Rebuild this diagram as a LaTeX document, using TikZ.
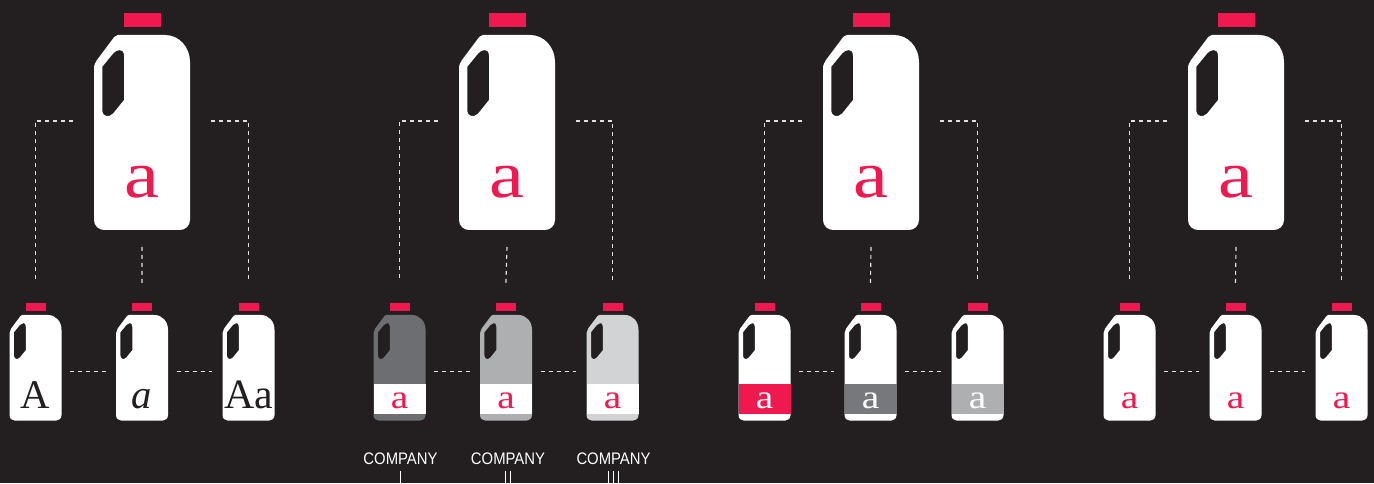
\documentclass[tikz,border=0pt]{standalone}
\usepackage{fontspec}
\setmainfont{Liberation Serif}
\newfontfamily\letterfont[FakeStretch=1.18]{Liberation Serif}
\newfontfamily\labelfont[FakeStretch=0.89]{Liberation Sans}
\usetikzlibrary{calc}
\definecolor{ink}{HTML}{231F20}
\definecolor{capred}{HTML}{F0194F}
\definecolor{dkgray}{HTML}{6D6E71}
\definecolor{bandgray}{HTML}{77787B}
\definecolor{mdgray}{HTML}{ADAFB1}
\definecolor{ltgray}{HTML}{D1D3D4}

\newcommand{\jugshape}[1]{%
  \fill[capred] (30,-22) rectangle (67,-8);
  \fill[#1, even odd rule] (24,0) -- (71,0) .. controls (85,0) and (96,12) .. (96,27)
    -- (96,185) .. controls (96,191) and (91,195) .. (86,195) -- (10,195)
    .. controls (5,195) and (0,191) .. (0,185) -- (0,34) .. controls (0,30) and (1,28) .. (3,25)
    -- (18,5) .. controls (20,2) and (22,0) .. (24,0) -- cycle
    (8.3,31.7) -- (19.3,18.3) .. controls (22,15) and (30,12) .. (30,21) -- (30,65)
    -- (19.3,78.3) .. controls (15,83) and (8.3,82) .. (8.3,75) -- cycle;
}

\tikzset{
  dashline/.style={white!88!black, line width=0.65pt, dash pattern=on 2.27pt off 2.27pt},
  tickline/.style={white, line width=0.85pt},
  bigletter/.style={font=\letterfont\fontsize{38}{38}\selectfont, text=capred, anchor=base, inner sep=0pt},
  smallletter/.style={font=\letterfont\fontsize{19}{19}\selectfont, text=capred, anchor=base, inner sep=0pt},
  whiteletter/.style={smallletter, text=white},
  inkletter/.style={font=\fontsize{23.2}{23.2}\selectfont, text=ink, anchor=base, inner sep=0pt},
  companylabel/.style={font=\labelfont\fontsize{9.5}{9.5}\selectfont, text=white, anchor=base, inner sep=0pt},
  pics/bigjug/.style={code={
    \jugshape{white}
    \node[bigletter] (-letter) at (48,163) {a};
    \coordinate (-w) at (-21,86);
    \coordinate (-e) at (117,86);
    \coordinate (-s) at (48,212);
  }},
  pics/smalljug/.style n args={4}{code={
    \jugshape{#1}
    \path[fill=#2] (0,127.8) rectangle (96,183);
    \node[#3] (-letter) at (48,171.7) {#4};
    \coordinate (-t) at (48,-65);
    \coordinate (-w) at (-18.5,104.6);
    \coordinate (-e) at (112,104.6);
  }}
}

\begin{document}
\begin{tikzpicture}[x=0.02cm, y=-0.02cm]

% Background
\fill[ink] (0,0) rectangle (1374,483);

% Large jugs
\foreach \g/\gx in {a/94, b/459, c/823, d/1188} {
  \pic (\g0) at (\gx,35) {bigjug};
}

% Small jugs: type
\pic[scale=.5417] (a1) at (9.5,315) {smalljug={white}{none}{inkletter}{A}};
\pic[scale=.5417] (a2) at (116,315) {smalljug={white}{none}{inkletter}{\itshape a}};
\pic[scale=.5417] (a3) at (222.5,315) {smalljug={white}{none}{inkletter, font=\fontsize{23.8}{23.8}\selectfont}{Aa}};

% Small jugs: grey bodies
\pic[scale=.5417] (b1) at (373.5,315) {smalljug={dkgray}{white}{smallletter}{a}};
\pic[scale=.5417] (b2) at (480,315) {smalljug={mdgray}{white}{smallletter}{a}};
\pic[scale=.5417] (b3) at (586.5,315) {smalljug={ltgray}{white}{smallletter}{a}};

% Small jugs: coloured bands
\pic[scale=.5417] (c1) at (738.5,315) {smalljug={white}{capred}{whiteletter}{a}};
\pic[scale=.5417] (c2) at (844.5,315) {smalljug={white}{bandgray}{whiteletter}{a}};
\pic[scale=.5417] (c3) at (951.5,315) {smalljug={white}{mdgray}{whiteletter}{a}};

% Small jugs: plain
\pic[scale=.5417] (d1) at (1103.5,315) {smalljug={white}{none}{smallletter}{a}};
\pic[scale=.5417] (d2) at (1209.5,315) {smalljug={white}{none}{smallletter}{a}};
\pic[scale=.5417] (d3) at (1315.5,315) {smalljug={white}{none}{smallletter}{a}};

% Dashed links
\foreach \g in {a,b,c,d} {
  \draw[dashline] (\g0-w) -| (\g1-t);
  \draw[dashline] (\g0-e) -| (\g3-t);
  \draw[dashline, shorten >=-1.7pt] (\g0-s) -- (\g2-t);
  \draw[dashline] (\g1-e) -- (\g2-w);
  \draw[dashline] (\g2-e) -- (\g3-w);
}

% Company labels
\node[companylabel] (company1) at (400.5,464.3) {COMPANY};
\node[companylabel] (company2) at (508,464.3) {COMPANY};
\node[companylabel] (company3) at (613.5,464.3) {COMPANY};
\draw[tickline] ($(company1.base)+(0,6.7)$) -- ++(0,12);
\foreach \dx in {-2.5,2.5}
  \draw[tickline] ($(company2.base)+(\dx,6.7)$) -- ++(0,12);
\foreach \dx in {-5,0,5}
  \draw[tickline] ($(company3.base)+(\dx,6.7)$) -- ++(0,12);

\end{tikzpicture}
\end{document}
